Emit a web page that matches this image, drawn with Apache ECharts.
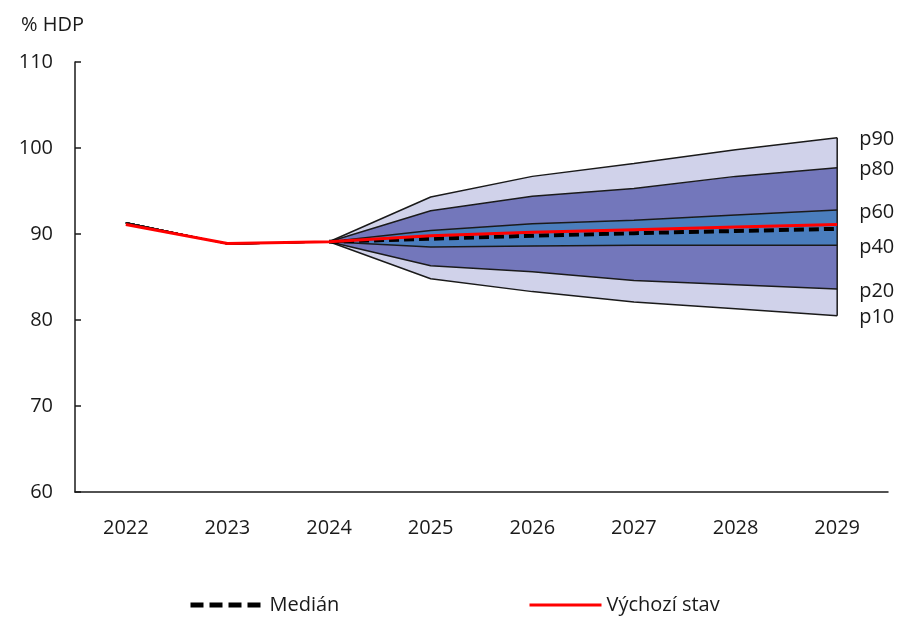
<!DOCTYPE html>
<html>
<head>
<meta charset="utf-8">
<script src="https://cdn.jsdelivr.net/npm/echarts@6/dist/echarts.min.js"></script>
<style>
  html, body { margin: 0; padding: 0; background: #fff; }
  #chart { width: 909px; height: 617px; }
</style>
</head>
<body>
<div id="chart"></div>
<script>
// Debt projection fan chart (% HDP), percentile bands around the median
const years = ['2022', '2023', '2024', '2025', '2026', '2027', '2028', '2029'];
const p10 = [91.3, 88.85, 89.1, 84.8, 83.3, 82.1, 81.3, 80.5];
const p20 = [91.3, 88.85, 89.1, 86.3, 85.6, 84.6, 84.1, 83.6];
const p40 = [91.3, 88.85, 89.1, 88.5, 88.6, 88.7, 88.7, 88.7];
const p60 = [91.3, 88.85, 89.1, 90.4, 91.2, 91.6, 92.2, 92.8];
const p80 = [91.3, 88.85, 89.1, 92.7, 94.4, 95.3, 96.7, 97.7];
const p90 = [91.3, 88.85, 89.1, 94.3, 96.7, 98.2, 99.8, 101.2];
const median = [null, null, 89.1, 89.45, 89.8, 90.1, 90.35, 90.6];
const baseline = [91.1, 88.9, 89.1, 89.8, 90.2, 90.5, 90.8, 91.1];
const yTicks = { min: 60, max: 110, step: 10 };

const FONT = 'Open Sans';
const FS = 20;
const INK = '#1a1a1a';
const LIGHT = '#d0d2ea';
const MID = '#7377bb';
const INNER = '#4a7dbd';

const diff = (a, b) => a.map((v, i) => +(v - b[i]).toFixed(3));

function band(name, data, color) {
  return {
    name, type: 'line', stack: 'fan', data, symbol: 'none', silent: true,
    lineStyle: { width: 0, opacity: 0 },
    areaStyle: { color, opacity: color ? 1 : 0 },
    z: 1
  };
}

function edge(name, data) {
  return {
    name, type: 'line', data, symbol: 'none', silent: true,
    lineStyle: { color: INK, width: 1.5 },
    endLabel: {
      show: true, formatter: name, distance: 22, offset: [0, 2],
      fontFamily: FONT, fontSize: FS, color: INK
    },
    z: 3
  };
}

const last = years.length - 1;
const legendText = { fontFamily: FONT, fontSize: FS, color: INK };

const option = {
  animation: false,
  backgroundColor: '#fff',
  title: {
    text: '% HDP', left: 16, top: 10,
    textStyle: { fontFamily: FONT, fontSize: FS, fontWeight: 'normal', color: INK }
  },
  grid: { left: 75, right: 21, top: 62, bottom: 125 },
  legend: [
    {
      data: ['Medián'], left: 183, top: 590, itemWidth: 74, itemHeight: 14, itemGap: 4,
      itemStyle: { opacity: 0 },
      lineStyle: { width: 5, type: [13, 6], cap: 'butt' },
      textStyle: legendText
    },
    {
      data: ['Výchozí stav'], left: 523, top: 590, itemWidth: 72, itemHeight: 14, itemGap: 4,
      itemStyle: { opacity: 0 }, lineStyle: { width: 3 }, textStyle: legendText
    }
  ],
  xAxis: {
    type: 'category', data: years, boundaryGap: true,
    axisLine: { lineStyle: { color: INK, width: 1.5 } },
    axisTick: { inside: true, length: 9, lineStyle: { color: INK, width: 1.5 } },
    axisLabel: { margin: 26, fontFamily: FONT, fontSize: FS, color: INK },
    splitLine: { show: false }
  },
  yAxis: {
    type: 'value', min: yTicks.min, max: yTicks.max, interval: yTicks.step,
    axisLine: { show: true, lineStyle: { color: INK, width: 1.5 } },
    axisTick: { show: true, inside: true, length: 6, lineStyle: { color: INK, width: 1.5 } },
    axisLabel: { margin: 22, fontFamily: FONT, fontSize: FS, color: INK },
    splitLine: { show: false }
  },
  series: [
    band('base', p10, null),
    band('b10_20', diff(p20, p10), LIGHT),
    band('b20_40', diff(p40, p20), MID),
    band('b40_60', diff(p60, p40), INNER),
    band('b60_80', diff(p80, p60), MID),
    band('b80_90', diff(p90, p80), LIGHT),
    edge('p90', p90),
    edge('p80', p80),
    edge('p60', p60),
    edge('p40', p40),
    edge('p20', p20),
    edge('p10', p10),
    {
      name: 'closing edge', type: 'line', symbol: 'none', silent: true,
      data: [[years[last], p10[last]], [years[last], p90[last]]],
      lineStyle: { color: INK, width: 1.5 }, z: 3
    },
    {
      name: 'Medián', type: 'line', data: median, symbol: 'none',
      itemStyle: { color: '#000' },
      lineStyle: { color: '#000', width: 4, type: [10, 5] }, z: 4
    },
    {
      name: 'Výchozí stav', type: 'line', data: baseline, symbol: 'none',
      itemStyle: { color: '#ff0000' },
      lineStyle: { color: '#ff0000', width: 3 }, z: 5
    }
  ]
};

echarts.init(document.getElementById('chart')).setOption(option);
</script>
</body>
</html>
